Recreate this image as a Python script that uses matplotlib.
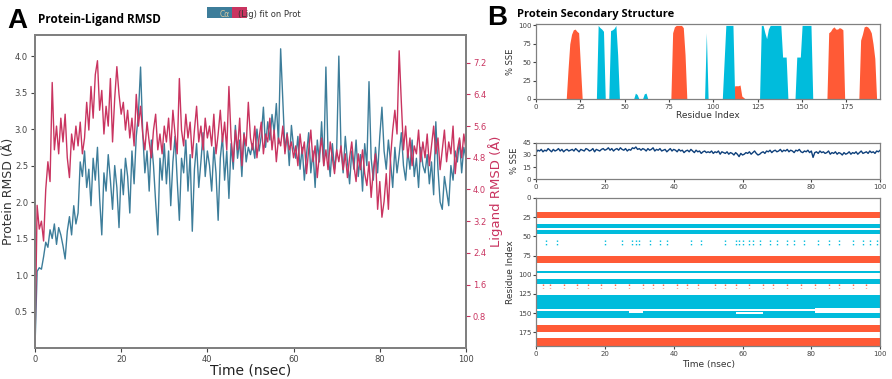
"""
Protein-ligand RMSD (A) and protein secondary structure (B) panels.
Values read by eye from the reference figure.
"""
import numpy as np
import matplotlib.pyplot as plt
from matplotlib.patches import Rectangle

plt.rcParams["font.family"] = ["DejaVu Sans"]

# ---------------- panel A data (0.5 ns step) ----------------
time_a = np.arange(0, 100.5, 0.5)

prot_rmsd = [
    0.00, 1.05, 1.10, 1.08, 1.25, 1.45, 1.38, 1.62, 1.50, 1.70, 1.42, 1.65, 1.55, 1.40, 1.22, 1.60, 1.80, 1.55, 1.95, 1.70, 1.85,
    2.55, 2.35, 2.70, 2.20, 2.45, 1.95, 2.60, 2.30, 2.75, 2.05, 1.55, 2.40, 2.15, 2.65, 2.30, 1.90, 2.50, 2.20, 1.65, 2.45,
    2.10, 2.60, 2.35, 1.85, 2.70, 2.25, 2.90, 3.20, 3.85, 2.95, 2.40, 2.70, 2.15, 2.85, 2.50, 2.00, 1.55, 2.60, 2.30, 2.80,
    2.25, 2.70, 1.95, 2.55, 2.90, 2.30, 1.75, 2.60, 2.40, 2.85, 2.15, 2.65, 1.60, 2.45, 2.80, 2.20, 2.55, 2.95, 2.35, 2.70,
    2.50, 2.15, 2.75, 2.40, 1.75, 2.60, 2.90, 2.30, 2.70, 2.05, 2.80, 2.45, 3.05, 2.60, 2.85, 2.35, 2.95, 2.55, 2.75, 2.65,
    2.80, 2.60, 3.00, 2.70, 2.90, 3.30, 2.75, 3.10, 2.85, 3.20, 2.95, 3.35, 2.80, 4.10, 3.40, 2.70, 2.95, 2.50, 3.05, 2.75,
    2.60, 2.90, 2.45, 2.75, 2.30, 2.65, 2.95, 2.40, 2.70, 2.20, 2.85, 2.55, 3.10, 2.50, 3.85, 2.65, 2.35, 2.80, 2.45, 2.70,
    4.00, 2.75, 2.40, 2.90, 2.55, 2.25, 2.70, 2.45, 2.85, 2.35, 2.65, 2.15, 2.80, 2.50, 3.65, 2.60, 2.30, 2.75, 2.40, 2.90,
    3.30, 2.70, 2.45, 2.85, 2.55, 2.20, 2.75, 2.40, 2.65, 2.95, 2.50, 2.30, 2.70, 2.45, 2.85, 2.35, 2.60, 2.20, 2.75, 2.50,
    2.40, 2.65, 2.25, 2.55, 2.10, 3.10, 2.45, 2.00, 1.90, 2.35, 2.15, 1.95, 2.50, 2.30, 2.70, 2.55, 2.85, 2.40, 2.75, 2.60,
]

lig_rmsd = [
    0.0, 3.6, 3.0, 3.2, 2.7, 4.0, 4.7, 4.2, 6.7, 5.0, 5.6, 4.9, 5.8, 5.2, 5.9, 4.8, 4.3, 5.4, 5.0, 5.6, 5.1,
    5.7, 4.9, 5.3, 6.2, 5.5, 6.6, 5.8, 6.9, 7.25, 6.0, 6.5, 5.4, 6.1, 5.6, 6.8, 5.2, 6.3, 7.1, 6.4, 5.9,
    6.2, 5.5, 6.0, 5.3, 5.8, 5.1, 6.4, 5.6, 6.1, 5.4, 5.0, 5.7, 5.2, 4.8, 5.5, 5.9, 5.0, 5.4, 4.9, 5.6,
    5.2, 5.8, 5.0, 6.0, 5.4, 4.9, 6.8, 5.5, 5.1, 5.9, 5.3, 5.7, 4.8, 5.5, 6.1, 5.2, 5.6, 5.0, 5.8, 5.3,
    5.6, 5.1, 5.9, 4.9, 5.4, 6.0, 5.2, 5.7, 5.0, 6.6, 5.3, 4.7, 5.5, 5.0, 5.8, 4.6, 5.4, 5.1, 6.2, 5.3,
    5.0, 5.6, 4.8, 5.3, 5.7, 4.9, 5.4, 5.2, 5.8, 5.0, 5.5, 4.7, 5.3, 5.1, 5.6, 4.9, 5.4, 5.0, 5.2, 4.8,
    5.1, 4.6, 5.4, 4.9, 5.2, 4.4, 5.0, 5.5, 4.7, 5.1, 4.3, 4.9, 5.3, 4.6, 5.0, 4.5, 5.2, 4.8, 4.4, 5.0,
    4.7, 5.1, 4.5, 4.9, 4.3, 4.8, 5.2, 4.6, 4.2, 4.9, 4.5, 5.0, 4.4, 4.1, 4.7, 3.8, 4.5, 4.9, 3.5, 4.2,
    3.3, 3.7, 4.4, 3.5, 4.8, 5.5, 6.0, 5.4, 7.5, 6.2, 5.0, 5.6, 4.8, 5.3, 4.6, 5.1, 4.9, 5.5, 4.7, 5.2,
    4.8, 5.4, 4.6, 5.1, 5.6, 4.9, 5.3, 4.5, 5.0, 5.5, 4.7, 5.2, 4.9, 5.6, 4.4, 5.0, 5.3, 4.8, 5.4, 5.0,
]

# ---------------- panel B data ----------------
residues = np.arange(0, 195)
# % SSE per residue (non-zero entries only)
helix_pct = {18: 40, 19: 75, 20: 88, 21: 94, 22: 95, 23: 92, 24: 90, 25: 45,
             77: 90, 78: 98, 79: 100, 80: 100, 81: 100, 82: 100, 83: 97, 84: 60,
             112: 18, 113: 18, 114: 18, 115: 19, 116: 4, 117: 2,
             165: 90, 166: 92, 167: 96, 168: 98, 169: 95, 170: 95, 171: 97, 172: 96, 173: 94,
             183: 80, 184: 88, 185: 98, 186: 99, 187: 98, 188: 95, 189: 90, 190: 75, 191: 55}
strand_pct = {35: 100, 36: 97, 37: 95, 38: 92,
              42: 93, 43: 94, 44: 96, 45: 100, 46: 60,
              56: 8, 57: 6, 61: 7, 62: 8,
              96: 90,
              106: 50, 107: 100, 108: 100, 109: 100, 110: 100, 111: 100,
              127: 100, 128: 100, 129: 90, 130: 82, 131: 95, 132: 100, 133: 100, 134: 100,
              135: 100, 136: 100, 137: 100, 138: 100, 139: 57, 140: 57, 141: 57,
              147: 57, 148: 57, 149: 57, 150: 100, 151: 100, 152: 100, 153: 100, 154: 100, 155: 100}

time_b = np.arange(0, 100.5, 0.5)
total_sse = [
    33, 36, 35, 37, 34, 36, 35, 38, 36, 34, 37, 35, 36, 38, 35, 37, 34, 36, 37, 35, 36,
    37, 35, 38, 36, 34, 37, 36, 35, 38, 37, 35, 36, 38, 34, 37, 36, 35, 37, 38, 36,
    37, 39, 36, 38, 35, 37, 38, 36, 39, 37, 36, 38, 35, 37, 36, 39, 38, 40, 37, 38,
    36, 38, 37, 35, 38, 36, 37, 39, 35, 37, 36, 38, 35, 36, 37, 34, 36, 38, 35, 37,
    36, 34, 37, 35, 36, 33, 35, 36, 34, 37, 35, 33, 36, 34, 35, 32, 34, 35, 33, 34,
    33, 35, 32, 34, 33, 35, 31, 34, 33, 32, 34, 31, 33, 32, 30, 33, 31, 28, 32, 30,
    31, 33, 32, 34, 31, 33, 35, 32, 30, 31, 33, 34, 32, 35, 34, 36, 33, 35, 36, 34,
    35, 37, 34, 36, 35, 37, 34, 36, 35, 33, 36, 35, 37, 34, 33, 35, 34, 36, 33, 35,
    27, 33, 34, 32, 35, 33, 34, 32, 33, 35, 31, 33, 32, 34, 31, 33, 32, 30, 33, 31,
    32, 34, 31, 33, 32, 34, 31, 33, 35, 32, 33, 34, 32, 35, 33, 34, 32, 35, 34, 36,
]

# SSE bands over time: (first residue, last residue, type)
sse_bands = [(18, 26, "H"), (34, 47, "E"), (76, 85, "H"), (95, 98, "E"),
             (106, 112, "E"), (126, 145, "E"), (147, 157, "E"),
             (165, 175, "H"), (183, 193, "H")]
# white gaps inside bands: (res lo, res hi, t start, t end)
sse_gaps = [(39.5, 41.5, 0, 100), (145, 147.5, 0, 100), (143, 150, 81, 100),
            (149, 151, 58, 66), (148, 150, 27, 31)]
# speckled rows: (res lo, res hi, type, times)
speckles = [(55, 63, "E", [3, 6, 20, 25, 28, 29, 30, 33, 36, 38, 45, 48, 55, 58, 59, 60, 62, 63,
                            65, 68, 70, 73, 75, 78, 82, 85, 88, 92, 95, 97, 99]),
            (112, 118, "H", [2, 4, 8, 12, 15, 19, 23, 27, 31, 34, 37, 41, 44, 47, 52, 55, 58, 62,
                             66, 69, 73, 77, 81, 85, 88, 92, 96])]

C_PROT = "#3d7d9a"
C_LIG = "#c93460"
C_HELIX = "#ff5a36"
C_STRAND = "#00bcdc"
C_SPINE = "#808080"

fig = plt.figure(figsize=(8.92, 3.79), dpi=100)

# ================= Panel A =================
ax = fig.add_axes([0.0392, 0.0818, 0.4832, 0.826])
ax.plot(time_a, prot_rmsd, color=C_PROT, linewidth=1.0)
ax.set_xlim(0, 100)
ax.set_ylim(0, 4.29)
ax.set_yticks([0.5, 1.0, 1.5, 2.0, 2.5, 3.0, 3.5, 4.0])
ax.set_xticks([0, 20, 40, 60, 80, 100])
ax.tick_params(labelsize=6, colors="#444444", length=3, pad=2)
ax.set_ylabel("Protein RMSD (Å)", fontsize=9, color="#333333")
ax.yaxis.set_label_coords(-0.047, 0.5)
ax.set_xlabel("Time (nsec)", fontsize=10, color="#222222", labelpad=0)
for s in ax.spines.values():
    s.set_color(C_SPINE)
    s.set_linewidth(1.4)

ax2 = ax.twinx()
ax2.plot(time_a, lig_rmsd, color=C_LIG, linewidth=1.0)
ax2.set_ylim(0, 7.9)
ax2.set_yticks([0.8, 1.6, 2.4, 3.2, 4.0, 4.8, 5.6, 6.4, 7.2])
ax2.tick_params(labelsize=6, colors=C_LIG, length=3, pad=2)
ax2.set_ylabel("Ligand RMSD (Å)", fontsize=9.5, color=C_LIG, labelpad=1)
for s in ax2.spines.values():
    s.set_color(C_SPINE)
    s.set_linewidth(1.4)

fig.text(0.008, 0.925, "A", fontsize=20, fontweight="bold", family="Liberation Sans")
fig.text(0.043, 0.94, "Protein-Ligand RMSD", fontsize=8.5, fontweight="bold", family="Open Sans")

# legend patches
fig.patches.append(Rectangle((0.232, 0.952), 0.032, 0.03, transform=fig.transFigure,
                             facecolor=C_PROT, edgecolor="none"))
fig.patches.append(Rectangle((0.260, 0.952), 0.017, 0.03, transform=fig.transFigure,
                             facecolor=C_LIG, edgecolor="none"))
fig.text(0.246, 0.956, "Cα", fontsize=5.5, color="#d8c8a0")
fig.text(0.267, 0.956, "(Lig) fit on Prot", fontsize=6, color="#333333")

# ================= Panel B =================
fig.text(0.546, 0.935, "B", fontsize=20, fontweight="bold", family="Liberation Sans")
fig.text(0.58, 0.955, "Protein Secondary Structure", fontsize=8, fontweight="bold",
         family="Open Sans")

helix_arr = np.array([helix_pct.get(r, 0) for r in residues])
strand_arr = np.array([strand_pct.get(r, 0) for r in residues])

axt = fig.add_axes([0.601, 0.7388, 0.3857, 0.198])
axt.fill_between(residues, helix_arr, color=C_HELIX, linewidth=0)
axt.fill_between(residues, strand_arr, color=C_STRAND, linewidth=0)
axt.set_xlim(0, 194)
axt.set_ylim(0, 102)
axt.set_xticks([0, 25, 50, 75, 100, 125, 150, 175])
axt.set_yticks([0, 25, 50, 75, 100])
axt.set_xlabel("Residue Index", fontsize=6.5, labelpad=1, color="#333333")
axt.set_ylabel("% SSE", fontsize=6, labelpad=2, color="#333333")

axm = fig.add_axes([0.601, 0.5277, 0.3857, 0.095])
axm.plot(time_b, total_sse, color="#0d3f7a", linewidth=1.0)
axm.set_xlim(0, 100)
axm.set_ylim(0, 45)
axm.set_yticks([0, 15, 30, 45])
axm.set_xticks([0, 20, 40, 60, 80, 100])
axm.set_ylabel("% SSE", fontsize=6, labelpad=2, color="#333333")

axb = fig.add_axes([0.601, 0.0871, 0.3857, 0.3905])
for lo, hi, kind in sse_bands:
    axb.barh((lo + hi) / 2, 100, left=0, height=hi - lo,
             color=C_HELIX if kind == "H" else C_STRAND, linewidth=0)
for lo, hi, t0, t1 in sse_gaps:
    axb.barh((lo + hi) / 2, t1 - t0, left=t0, height=hi - lo, color="white", linewidth=0)
for lo, hi, kind, times in speckles:
    axb.vlines(times, lo, hi, color=C_HELIX if kind == "H" else C_STRAND,
               linewidth=1.0, linestyles=(0, (1, 1.5)))
axb.set_xlim(0, 100)
axb.set_ylim(193, 0)
axb.set_yticks([0, 25, 50, 75, 100, 125, 150, 175])
axb.set_xticks([0, 20, 40, 60, 80, 100])
axb.set_ylabel("Residue Index", fontsize=6.5, labelpad=2, color="#333333")
axb.set_xlabel("Time (nsec)", fontsize=6.5, labelpad=2, color="#333333")

for a in (axt, axm, axb):
    a.tick_params(labelsize=5, colors="#444444", length=2, pad=1.5)
    for s in a.spines.values():
        s.set_color(C_SPINE)
        s.set_linewidth(0.9)

fig.savefig("out.png", dpi=100)
